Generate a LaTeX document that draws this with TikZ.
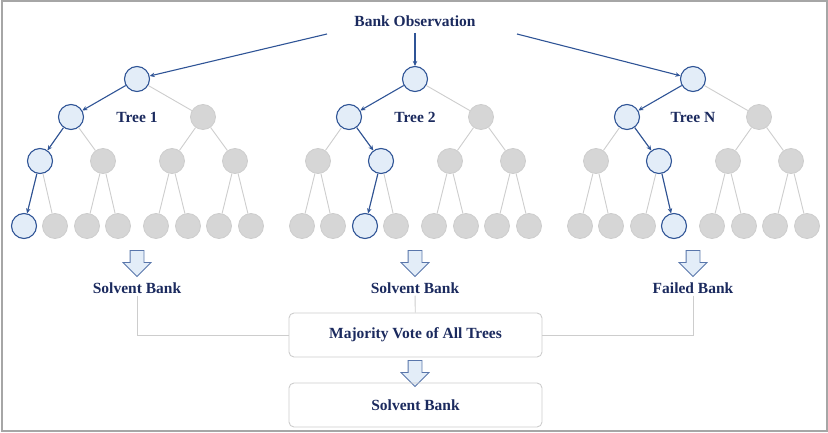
\documentclass[tikz,border=0pt]{standalone}
\usepackage{fontspec}
\setmainfont{Liberation Serif}
\usepackage{xcolor}
\usetikzlibrary{arrows.meta,positioning,shapes.arrows}

\definecolor{navy}{HTML}{1B2A5E}
\definecolor{pathblue}{HTML}{2F5496}
\definecolor{paleblue}{HTML}{E3EDF8}
\definecolor{leafgray}{HTML}{D6D6D6}
\definecolor{edgegray}{HTML}{CDCDCD}

\begin{document}
\begin{tikzpicture}[
    x=1pt, y=-1pt,
    >={Stealth[length=5pt,width=4.5pt]},
    lbl/.style={font=\fontsize{15.5}{18}\selectfont\bfseries, text=navy, inner sep=2pt},
    gnode/.style={circle, draw=edgegray, fill=leafgray, line width=0.8pt, minimum size=25pt, inner sep=0pt},
    bnode/.style={circle, draw=pathblue, fill=paleblue, line width=1.1pt, minimum size=25pt, inner sep=0pt},
    gline/.style={draw=edgegray, line width=0.9pt},
    hl/.style={draw=pathblue, line width=1.1pt, ->},
    barrow/.style={single arrow, draw=pathblue!80, fill=paleblue, line width=0.8pt, rotate=-90,
        minimum height=26pt, minimum width=27pt, single arrow head extend=7pt, inner xsep=0pt, inner ysep=6.5pt},
    box/.style={draw=edgegray, rounded corners=5pt, line width=0.9pt, minimum width=253pt, minimum height=44pt, font=\fontsize{15.5}{18}\selectfont\bfseries, text=navy},
]
\useasboundingbox (0,0) rectangle (828,433);

% Frame
\draw[gray!70, line width=1.2pt] (2,1) rectangle (827,431);

% Input
\node[lbl] (obs) at (415,21) {Bank Observation};
\coordinate (oL) at (327,34);
\coordinate (oM) at (415,33);
\coordinate (oR) at (517,34);

% Trees (\m = chosen node on level 3, \f = chosen leaf)
\foreach \t/\x/\n/\m/\f in {1/137/1/1/1, 2/415/2/2/3, 3/693/N/2/4}{
  \node[bnode] (r\t) at (\x,79) {};
  \node[bnode] (a\t1) at ({\x-66},117) {};
  \node[gnode] (a\t2) at ({\x+66},117) {};
  \node[lbl] (name\t) at (\x,117) {Tree \n};
  % level 3
  \foreach \i/\dx in {1/-97,2/-34,3/35,4/98}{
    \tikzset{pick/.style/.expanded={\ifnum\i=\m bnode\else gnode\fi}}
    \node[pick] (b\t\i) at ({\x+\dx},161) {};
  }
  % leaves
  \foreach \i/\dx in {1/-113,2/-82,3/-50,4/-19,5/19,6/51,7/82,8/114}{
    \tikzset{pick/.style/.expanded={\ifnum\i=\f bnode\else gnode\fi}}
    \node[pick] (c\t\i) at ({\x+\dx},226) {};
  }
  % gray edges
  \draw[gline] (r\t) -- (a\t2);
  \draw[gline] (a\t1) -- (b\t1) (a\t1) -- (b\t2) (a\t2) -- (b\t3) (a\t2) -- (b\t4);
  \draw[gline] (b\t1) -- (c\t1) (b\t1) -- (c\t2) (b\t2) -- (c\t3) (b\t2) -- (c\t4);
  \draw[gline] (b\t3) -- (c\t5) (b\t3) -- (c\t6) (b\t4) -- (c\t7) (b\t4) -- (c\t8);
  % decision path
  \draw[hl] (r\t) -- (a\t1);
  \draw[hl] (a\t1) -- (b\t\m);
  \draw[hl] (b\t\m) -- (c\t\f);
}

% Observation to roots
\draw[hl] (oL) -- (r1);
\draw[hl] (oM) -- (r2);
\draw[hl] (oR) -- (r3);

% Tree outputs
\node[barrow] (da1) at (137,260) {};
\node[barrow] (da2) at (415,260) {};
\node[barrow] (da3) at (693,260) {};
\node[lbl] (res1) at (137,288) {Solvent Bank};
\node[lbl] (res2) at (415,288) {Solvent Bank};
\node[lbl] (res3) at (693,288) {Failed Bank};

% Vote
\node[box] (vote) at (415.5,335) {Majority Vote of All Trees};
\node[barrow] (dam) at (415,370) {};
\node[box] (final) at (415.5,405) {Solvent Bank};

\draw[gline] (res1) |- (vote);
\draw[gline] (res2) -- (vote);
\draw[gline] (res3) |- (vote);

\end{tikzpicture}
\end{document}
